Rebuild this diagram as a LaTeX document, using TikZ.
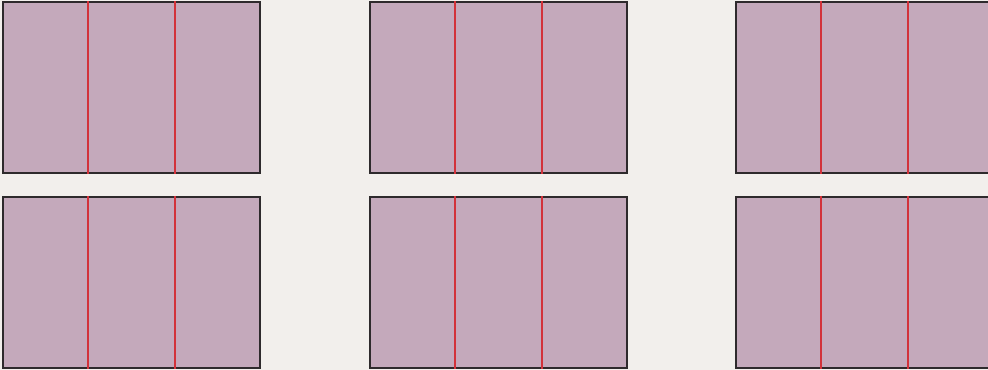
\documentclass[tikz,border=0pt]{standalone}
\usepackage{tikz}
\usetikzlibrary{calc}
\definecolor{bgcol}{HTML}{F2EFEC}
\definecolor{panelcol}{HTML}{C4A9BB}
\definecolor{edgecol}{HTML}{2E2A2C}
\definecolor{splitcol}{HTML}{D2323A}

\begin{document}
\begin{tikzpicture}[
    x=0.01cm, y=-0.01cm,
    panel/.style={draw=edgecol, fill=panelcol, line width=0.02cm, inner sep=0pt,
      minimum width=2.57cm, minimum height=1.71cm},
    split/.style={draw=splitcol, line width=0.02cm},
  ]
  \fill[bgcol] (0,0) rectangle (988,370);
  \useasboundingbox (0,0) rectangle (988,370);
  \clip (0,0) rectangle (988,370);
  \foreach \c/\cx in {1/131.5, 2/498.5, 3/864.5} {
    \foreach \r/\cy in {1/87.5, 2/282.5} {
      \node[panel] (p\r\c) at (\cx,\cy) {};
      \draw[split] ($(p\r\c.north west)!1/3!(p\r\c.north east)$) -- ($(p\r\c.south west)!1/3!(p\r\c.south east)$);
      \draw[split] ($(p\r\c.north west)!2/3!(p\r\c.north east)$) -- ($(p\r\c.south west)!2/3!(p\r\c.south east)$);
    }
  }
\end{tikzpicture}
\end{document}
